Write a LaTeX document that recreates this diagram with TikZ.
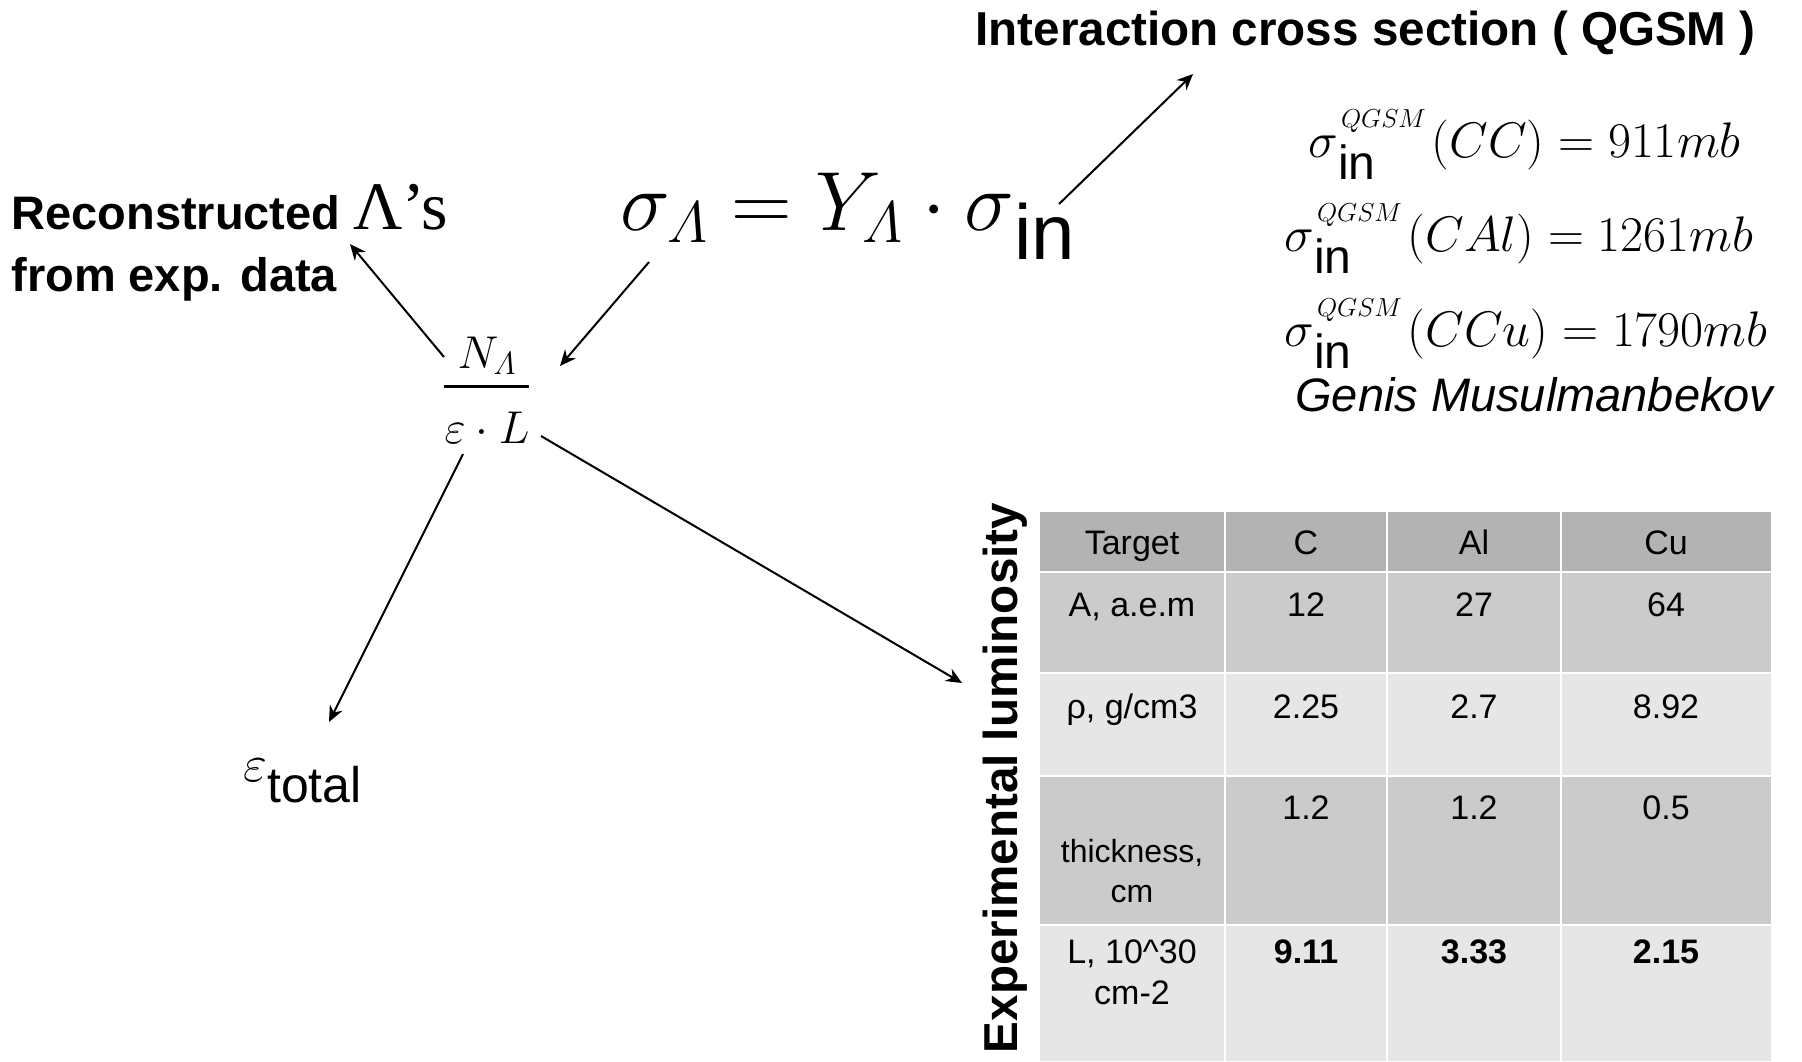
\documentclass[tikz,border=0pt]{standalone}
\usepackage{fix-cm}
\usepackage{amsmath}
\usepackage{fontspec}
\newfontfamily\arial{Liberation Sans}
\newfontfamily\tnr{Liberation Serif}
\usetikzlibrary{arrows.meta,fit}
\definecolor{hdrgray}{HTML}{B3B3B3}
\definecolor{bandA}{HTML}{CBCBCB}
\definecolor{bandB}{HTML}{E6E6E6}
\newcommand\fs[1]{\fontsize{#1}{#1}\selectfont}
\newcommand\sigq[1]{$\sigma$\rlap{\raisebox{-11pt}{\arial\fs{24}in}}\kern1.5pt\raisebox{15pt}{\fs{13}$QGSM$}\kern3pt$#1$}
\begin{document}
\begin{tikzpicture}[x=0.5pt,y=-0.5pt,
  arr/.style={line width=1pt,-{Stealth[length=8pt,width=7pt]}},
  lbl/.style={inner sep=0,anchor=base west,font=\arial\fs{23.5}},
  bl/.style={inner sep=0,anchor=base west,font=\arial\bfseries\fs{23.5}},
  cell/.style={inner sep=0,anchor=base,font=\arial\fs{17}},
  bcell/.style={inner sep=0,anchor=base,font=\arial\bfseries\fs{17}},
  sep/.style={white,line width=1pt}]
\useasboundingbox (0,0) rectangle (1802,1061);

% ---- text labels
\node[bl,font=\arial\bfseries\fs{23.8}] (title) at (975,45) {Interaction cross section ( QGSM )};
\node[bl] (recon) at (11,229) {Reconstructed {\tnr\mdseries\fs{34}Λ’s}};
\node[bl] (recon2) at (11,291) {from exp. data};

\node[inner sep=0,anchor=base west,font=\fs{42}] (form) at (620,230)
  {$\sigma_{\varLambda} = Y_{\varLambda}\cdot\sigma$\raisebox{-14.5pt}{\arial\fs{39}in}};

\node[inner sep=0,anchor=base,font=\fs{23}] (num) at (487,368) {$N_{\varLambda}$};
\node[inner sep=0,anchor=base,font=\fs{23}] (den) at (487,443) {$\varepsilon\cdot L$};
\node[fit=(num)(den),inner sep=0] (frac) {};
\draw[line width=1.5pt] (444,386) -- (529,386);

\node[inner sep=0,anchor=base west] (eps) at (243,802)
  {\raisebox{10.5pt}{\fs{26}$\varepsilon$}{\arial\fs{25}total}};

\node[inner sep=0,anchor=base west,font=\fs{25}] (s1) at (1308,157) {\sigq{(CC) = 911mb}};
\node[inner sep=0,anchor=base west,font=\fs{25}] (s2) at (1284,251) {\sigq{(CAl) = 1261mb}};
\node[inner sep=0,anchor=base west,font=\fs{25}] (s3) at (1284,346) {\sigq{(CCu) = 1790mb}};
\node[lbl,font=\arial\itshape\fs{23.5}] (genis) at (1295,411) {Genis Musulmanbekov};

\node[inner sep=0,anchor=base,rotate=90,font=\arial\bfseries\fs{23.8}] (lum) at (1017,778) {Experimental luminosity};

% ---- table
\fill[hdrgray] (1040,512) rectangle (1771,572);
\fill[bandA] (1040,572) rectangle (1771,673);
\fill[bandB] (1040,673) rectangle (1771,776);
\fill[bandA] (1040,776) rectangle (1771,925);
\fill[bandB] (1040,925) rectangle (1771,1061);
\foreach \yy in {572,673,776,925} \draw[sep] (1040,\yy) -- (1771,\yy);
\foreach \xx in {1225,1387,1561} \draw[sep] (\xx,512) -- (\xx,1061);

\node[cell] (h0) at (1132,554) {Target};
\node[cell] (h1) at (1306,554) {C};
\node[cell] (h2) at (1474,554) {Al};
\node[cell] (h3) at (1666,554) {Cu};

\node[cell] (a0) at (1132,616) {A, a.e.m};
\node[cell] (a1) at (1306,616) {12};
\node[cell] (a2) at (1474,616) {27};
\node[cell] (a3) at (1666,616) {64};

\node[cell] (r0) at (1132,718) {ρ, g/cm3};
\node[cell] (r1) at (1306,718) {2.25};
\node[cell] (r2) at (1474,718) {2.7};
\node[cell] (r3) at (1666,718) {8.92};

\node[cell,font=\arial\fs{16}] (t0) at (1132,862) {thickness,};
\node[cell,font=\arial\fs{16}] (t0b) at (1132,902) {cm};
\node[cell] (t1) at (1306,819) {1.2};
\node[cell] (t2) at (1474,819) {1.2};
\node[cell] (t3) at (1666,819) {0.5};

\node[cell] (l0) at (1132,963) {L, 10\textasciicircum30};
\node[cell] (l0b) at (1132,1004) {cm-2};
\node[bcell] (l1) at (1306,963) {9.11};
\node[bcell] (l2) at (1474,963) {3.33};
\node[bcell] (l3) at (1666,963) {2.15};

% ---- connector end points
\coordinate (fracA) at (444,357);
\coordinate (reconTip) at (350,244);
\coordinate (formA) at (649,262);
\coordinate (fracTip) at (560,366);
\coordinate (formB) at (1059,204);
\coordinate (titleTip) at (1193,74);
\coordinate (fracB) at (463,454);
\coordinate (epsTip) at (329,722);
\coordinate (fracC) at (541,436);
\coordinate (lumTip) at (962,683);

\draw[arr] (fracA) -- (reconTip);
\draw[arr] (formA) -- (fracTip);
\draw[arr] (formB) -- (titleTip);
\draw[arr] (fracB) -- (epsTip);
\draw[arr] (fracC) -- (lumTip);
\end{tikzpicture}
\end{document}
